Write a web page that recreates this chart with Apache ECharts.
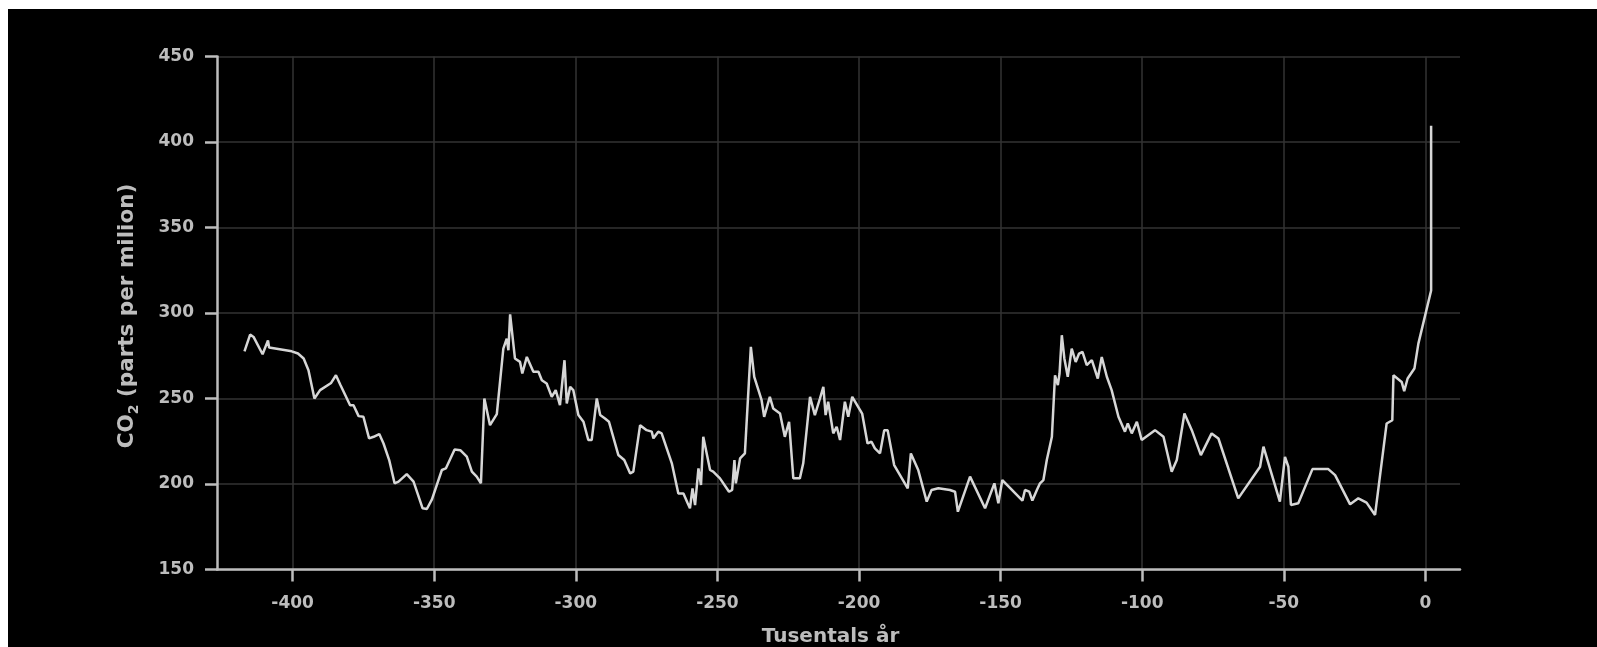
<!DOCTYPE html>
<html>
<head>
<meta charset="utf-8">
<script src="https://cdn.jsdelivr.net/npm/echarts@6/dist/echarts.min.js"></script>
<style>
  html, body { margin: 0; padding: 0; background: #ffffff; }
  #chart { position: absolute; left: 8px; top: 9px; width: 1589px; height: 638px; background: #000000; }
</style>
</head>
<body>
<div id="chart"></div>
<script>
// Atmospheric CO2 over the last ~420 000 years (ice core record + modern value)
const years = [
  -417.0, -415.0, -413.8, -410.6, -408.7, -408.3, -400.3, -398.1, -396.1, -394.4,
  -392.3, -390.3, -386.4, -384.7, -383.2, -379.7, -378.5, -376.7, -375.0, -373.0,
  -371.4, -369.4, -367.9, -365.9, -364.0, -362.6, -359.7, -357.3, -354.1, -352.6,
  -350.8, -347.3, -345.9, -342.8, -340.8, -338.5, -336.7, -335.0, -333.5, -332.3,
  -330.3, -327.9, -325.6, -324.4, -323.8, -323.2, -321.5, -319.7, -318.9, -317.3,
  -315.0, -313.2, -312.0, -310.3, -308.5, -307.1, -305.6, -304.0, -303.2, -302.0,
  -300.9, -299.1, -297.3, -295.6, -294.4, -292.6, -291.4, -289.7, -288.3, -285.0,
  -282.9, -280.8, -279.7, -277.3, -275.0, -273.2, -272.6, -270.9, -269.7, -266.1,
  -263.8, -262.0, -260.5, -259.7, -258.8, -257.9, -256.7, -255.8, -255.0, -252.6,
  -251.5, -249.1, -245.9, -244.8, -244.0, -243.5, -242.0, -240.3, -238.2, -237.0,
  -234.4, -233.5, -231.5, -230.3, -227.9, -226.2, -224.7, -223.2, -220.9, -219.7,
  -217.3, -215.6, -213.8, -212.6, -211.8, -210.9, -209.1, -207.9, -206.7, -205.0,
  -203.8, -202.4, -198.9, -197.0, -195.6, -194.4, -192.6, -191.1, -189.9, -187.6,
  -182.8, -181.7, -179.1, -176.1, -174.4, -172.0, -167.9, -166.1, -165.1, -160.8,
  -155.5, -152.2, -150.8, -149.4, -142.3, -141.4, -139.9, -138.8, -137.2, -136.1,
  -134.9, -133.7, -131.9, -130.8, -129.8, -129.2, -128.4, -127.5, -126.3, -124.9,
  -123.5, -122.3, -121.1, -119.6, -117.8, -115.7, -114.3, -112.5, -110.8, -108.4,
  -106.1, -105.1, -103.7, -101.9, -100.2, -95.5, -92.5, -89.6, -87.8, -85.1,
  -82.5, -79.3, -75.5, -73.1, -66.1, -58.4, -57.2, -51.4, -49.6, -48.4,
  -47.5, -44.9, -39.9, -34.3, -31.9, -26.6, -23.7, -20.8, -17.8, -13.7,
  -11.7, -11.3, -8.4, -7.5, -6.3, -3.9, -2.5, 2.0, 2.0
];

const co2 = [
  277.6, 287.4, 286.0, 275.9, 284.0, 279.8, 277.6, 276.3, 273.4, 266.5,
  250.0, 254.9, 259.1, 263.6, 258.2, 246.1, 246.0, 239.7, 239.3, 226.7,
  227.6, 229.2, 223.7, 214.0, 200.4, 201.4, 205.8, 201.4, 185.8, 185.4,
  191.0, 208.2, 209.1, 220.2, 219.8, 216.0, 207.2, 204.3, 200.4, 250.0,
  234.4, 240.9, 279.2, 285.0, 278.2, 299.2, 273.4, 271.4, 264.6, 274.3,
  265.6, 265.6, 260.7, 258.8, 251.0, 254.9, 246.1, 272.4, 247.1, 256.8,
  254.9, 240.3, 236.4, 225.7, 225.7, 250.0, 240.3, 238.3, 236.4, 217.0,
  214.0, 206.2, 207.2, 234.4, 231.5, 230.6, 226.7, 230.6, 229.6, 212.1,
  194.5, 194.5, 188.7, 185.8, 197.4, 187.7, 209.1, 199.4, 227.6, 208.2,
  207.2, 203.3, 195.5, 196.5, 214.0, 200.4, 215.0, 217.9, 280.2, 262.7,
  249.0, 239.3, 251.0, 244.2, 241.2, 227.6, 236.4, 203.3, 203.3, 212.1,
  251.0, 240.3, 250.0, 256.8, 240.3, 248.1, 229.6, 233.5, 225.7, 248.1,
  239.3, 251.0, 241.2, 223.7, 224.7, 220.8, 217.9, 231.5, 231.5, 211.1,
  197.5, 217.9, 208.2, 189.7, 196.5, 197.5, 196.5, 195.5, 183.8, 204.3,
  185.8, 200.4, 188.7, 202.3, 190.3, 196.5, 195.5, 190.3, 196.5, 200.4,
  202.3, 214.0, 227.6, 263.6, 257.8, 264.6, 287.0, 273.4, 262.7, 279.2,
  271.4, 276.3, 277.2, 269.5, 272.4, 261.7, 274.3, 262.7, 254.9, 239.3,
  230.6, 235.4, 229.6, 236.4, 225.7, 231.5, 227.6, 207.2, 214.0, 241.2,
  231.5, 216.9, 229.6, 226.6, 191.6, 210.1, 221.8, 189.7, 215.9, 210.1,
  187.7, 188.7, 208.7, 208.7, 205.2, 188.1, 191.6, 189.1, 181.9, 235.4,
  237.3, 263.6, 259.7, 254.3, 261.7, 267.5, 282.1, 313.2, 409.5
];

const xTicks = [-400, -350, -300, -250, -200, -150, -100, -50, 0];
const yMin = 150, yMax = 450, yStep = 50;
const xMin = -426.7, xMax = 12.2;

const xTitle = 'Tusentals år';
const yTitle = '{n|CO}{s|2}{n| (parts per milion)}';

const labelColor = '#bdbdbd';
const fontFamily = '"DejaVu Sans", "Liberation Sans", sans-serif';

const points = years.map((y, i) => [y, co2[i]]);

const chart = echarts.init(document.getElementById('chart'), null, { renderer: 'canvas' });

chart.setOption({
  backgroundColor: '#000000',
  animation: false,
  grid: { left: 209, right: 137, top: 47.5, bottom: 77.5, containLabel: false, outerBoundsMode: 'none' },
  xAxis: {
    type: 'value',
    min: xMin,
    max: xMax,
    name: xTitle,
    nameLocation: 'middle',
    nameGap: 57,
    nameTextStyle: { color: labelColor, fontFamily, fontWeight: 'bold', fontSize: 20, padding: [0, 16, 0, 0] },
    axisLine: { show: true, onZero: false, lineStyle: { color: labelColor, width: 2.5 } },
    axisTick: { show: true, length: 12, customValues: xTicks, lineStyle: { color: labelColor, width: 2.5 } },
    axisLabel: { customValues: xTicks, color: labelColor, fontFamily, fontWeight: 'bold', fontSize: 17, margin: 26 },
    splitLine: { show: true, lineStyle: { color: '#333333', width: 1.5 } }
  },
  yAxis: {
    type: 'value',
    min: yMin,
    max: yMax,
    interval: yStep,
    name: yTitle,
    nameLocation: 'middle',
    nameGap: 76,
    nameTextStyle: {
      color: labelColor,
      padding: [0, 6, 0, 0],
      rich: {
        n: { color: labelColor, fontFamily, fontWeight: 'bold', fontSize: 21.5, lineHeight: 28 },
        s: { color: labelColor, fontFamily, fontWeight: 'bold', fontSize: 14, lineHeight: 14, verticalAlign: 'bottom' }
      }
    },
    axisLine: { show: true, onZero: false, lineStyle: { color: labelColor, width: 2.5 } },
    axisTick: { show: true, length: 12, lineStyle: { color: labelColor, width: 2.5 } },
    axisLabel: { color: labelColor, fontFamily, fontWeight: 'bold', fontSize: 17, margin: 23 },
    splitLine: { show: true, lineStyle: { color: '#333333', width: 1.5 } }
  },
  series: [{
    type: 'line',
    data: points,
    showSymbol: false,
    symbol: 'none',
    lineStyle: { color: '#d6d6d6', width: 2.5 },
    clip: false
  }]
});
</script>
</body>
</html>
